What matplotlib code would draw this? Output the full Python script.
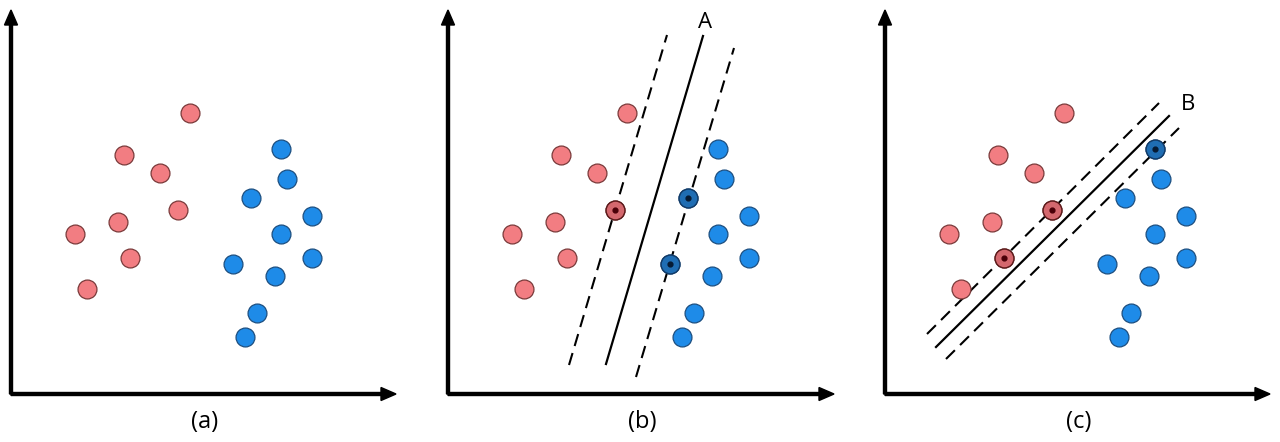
import numpy as np
import matplotlib.pyplot as plt
from matplotlib.patches import FancyArrow

# point positions, same in all three panels (units ~ pixels from the axis corner)
red_x = [179, 113, 149, 167, 107, 64, 119, 76]
red_y = [281, 239, 221, 184, 172, 160, 136, 105]
blue_x = [270, 276, 240, 301, 270, 301, 222, 264, 246, 234]
blue_y = [245, 215, 196, 178, 160, 136, 130, 118, 81, 57]

# support vectors (indices) for panel b and c
sv_b_red = [3]
sv_b_blue = [2, 6]
sv_c_red = [3, 6]
sv_c_blue = [0]

# hyperplane A (panel b): solid, left margin, right margin
line_a = [[158, 255], [30, 358]]
margin_a1 = [[121, 219], [29, 359]]
margin_a2 = [[188, 286], [17, 346]]
# hyperplane B (panel c)
line_b = [[51, 284], [47, 278]]
margin_b1 = [[42, 274], [60, 291]]
margin_b2 = [[61, 294], [35, 266]]

panels = ["(a)", "(b)", "(c)"]

RED = "#F27D82"
BLUE = "#1E8BE8"
RED_SV = "#D4686E"
BLUE_SV = "#1F6DB3"
MS = 185

W, H = 1280, 442
fig = plt.figure(figsize=(12.8, 4.42), dpi=100)

# (left pixel of y axis, right end of x axis arrow)
origins = [(11, 398), (448, 836), (885, 1272)]
base_y = 394   # pixel row of x axis (from top)
top_y = 8      # pixel row of y arrow tip


def draw_panel(ax, w, h, label):
    ax.set_xlim(0, w)
    ax.set_ylim(0, h)
    ax.axis("off")
    # axes arrows
    ax.add_patch(FancyArrow(0, 0, w - 2, 0, width=3, head_width=13, head_length=15,
                            length_includes_head=True, color="black", clip_on=False))
    ax.add_patch(FancyArrow(0, 0, 0, h - 2, width=3, head_width=13, head_length=15,
                            length_includes_head=True, color="black", clip_on=False))
    ax.text(w / 2, -28, label, ha="center", va="center", fontsize=17,
            family="Open Sans", color="black")


def draw_points(ax, sv_red=(), sv_blue=()):
    rx, ry = np.array(red_x), np.array(red_y)
    bx, by = np.array(blue_x), np.array(blue_y)
    ax.scatter(rx, ry, s=MS, c=RED, edgecolors="#7a3a3a", linewidths=0.9, zorder=3)
    ax.scatter(bx, by, s=MS, c=BLUE, edgecolors="#1d4f80", linewidths=0.9, zorder=3)
    if len(sv_red):
        idx = list(sv_red)
        ax.scatter(rx[idx], ry[idx], s=MS, c=RED_SV, edgecolors="#5a1a1a",
                   linewidths=1.0, zorder=4)
        ax.scatter(rx[idx], ry[idx], s=12, c="#4a0008", zorder=5)
    if len(sv_blue):
        idx = list(sv_blue)
        ax.scatter(bx[idx], by[idx], s=MS, c=BLUE_SV, edgecolors="#123a66",
                   linewidths=1.0, zorder=4)
        ax.scatter(bx[idx], by[idx], s=12, c="#061a33", zorder=5)


axes = []
for i, (x0, x1) in enumerate(origins):
    w = x1 - x0
    h = base_y - top_y
    ax = fig.add_axes([x0 / W, (H - base_y) / H, w / W, h / H])
    draw_panel(ax, w, h, panels[i])
    axes.append(ax)

draw_points(axes[0])

dash = (0, (6, 3.5))
draw_points(axes[1], sv_b_red, sv_b_blue)
axes[1].plot(*line_a, color="black", lw=1.6, zorder=2)
axes[1].plot(*margin_a1, color="black", lw=1.5, ls=dash, zorder=2)
axes[1].plot(*margin_a2, color="black", lw=1.5, ls=dash, zorder=2)
axes[1].text(line_a[0][1] + 2, line_a[1][1] + 14, "A", ha="center", va="center",
             fontsize=16, family="Open Sans")

draw_points(axes[2], sv_c_red, sv_c_blue)
axes[2].plot(*line_b, color="black", lw=1.6, zorder=2)
axes[2].plot(*margin_b1, color="black", lw=1.5, ls=dash, zorder=2)
axes[2].plot(*margin_b2, color="black", lw=1.5, ls=dash, zorder=2)
axes[2].text(line_b[0][1] + 19, line_b[1][1] + 11, "B", ha="center", va="center",
             fontsize=16, family="Open Sans")

fig.savefig("out.png", dpi=100, facecolor="white")
